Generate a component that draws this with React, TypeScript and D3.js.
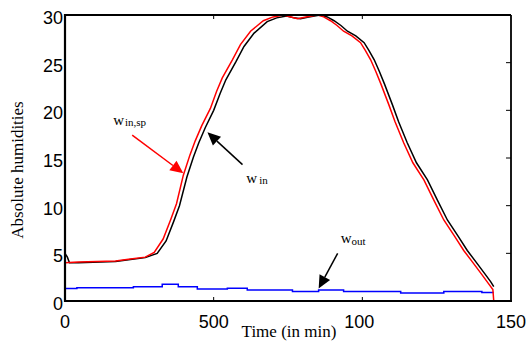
import * as d3 from 'd3';

// time (min) and values
const spTime = [0, 45, 170, 220, 270, 300, 330, 355, 375, 398, 420, 438, 460, 489, 510, 529, 563, 590, 624, 667, 700, 735, 760, 782, 810, 849, 870, 893, 915, 937, 965, 994, 1010, 1028, 1045, 1062, 1089, 1110, 1139, 1170, 1207, 1240, 1274, 1310, 1341, 1370, 1399, 1420, 1439, 1442];
const spValue = [4.0, 4.1, 4.2, 4.4, 4.6, 5.1, 6.5, 8.5, 10.2, 13.2, 15.3, 16.8, 18.4, 20.2, 22.0, 23.4, 25.3, 26.9, 28.3, 29.4, 29.8, 30.0, 29.8, 29.6, 29.8, 30.0, 29.8, 29.4, 28.9, 28.3, 27.8, 27.1, 26.3, 25.3, 24.1, 22.8, 20.6, 18.8, 16.6, 14.5, 12.7, 10.6, 8.5, 6.8, 5.3, 4.1, 2.9, 2.0, 1.2, 0.0];

const inTime = [0, 8, 15, 45, 170, 220, 270, 310, 340, 365, 385, 410, 432, 450, 472, 500, 522, 541, 575, 602, 636, 680, 712, 745, 770, 792, 820, 858, 882, 905, 928, 950, 978, 1006, 1022, 1040, 1057, 1074, 1101, 1122, 1151, 1182, 1219, 1252, 1286, 1322, 1353, 1382, 1411, 1432, 1442];
const inValue = [5.0, 4.6, 4.0, 4.0, 4.15, 4.35, 4.55, 5.0, 6.3, 8.3, 10.0, 13.0, 15.1, 16.6, 18.2, 20.0, 21.8, 23.2, 25.1, 26.7, 28.1, 29.3, 29.7, 29.9, 29.7, 29.6, 29.8, 30.0, 29.8, 29.4, 28.9, 28.3, 27.8, 27.1, 26.3, 25.3, 24.1, 22.8, 20.6, 18.8, 16.6, 14.5, 12.7, 10.6, 8.5, 6.8, 5.3, 4.1, 2.9, 2.0, 1.5];

// w_out is piecewise constant
const outTime = [0, 40, 230, 327, 381, 445, 546, 613, 765, 853, 937, 1129, 1274, 1402, 1442];
const outValue = [1.3, 1.4, 1.5, 1.75, 1.5, 1.25, 1.35, 1.15, 1.0, 1.15, 1.0, 0.85, 1.0, 0.9, 0.9];

const xTicks = [0, 500, 1000, 1500];
const xTickLabels = ['0', '500', '100', '150'];
const yTicks = [0, 5, 10, 15, 20, 25, 30];

const W = 526;
const H = 350;
const margin = { left: 65, right: 15, top: 15, bottom: 49 };

const x = d3.scaleLinear().domain([0, 1500]).range([margin.left, W - margin.right]);
const y = d3.scaleLinear().domain([0, 30]).range([H - margin.bottom, margin.top]);

const line = d3.line<[number, number]>().x(d => x(d[0])).y(d => y(d[1]));
const stepLine = d3.line<[number, number]>().x(d => x(d[0])).y(d => y(d[1])).curve(d3.curveStepAfter);

const zip = (a: number[], b: number[]) => a.map((t, i) => [t, b[i]] as [number, number]);

function Arrow({ from, to, color }: { from: [number, number]; to: [number, number]; color: string }) {
  const x1 = x(from[0]), y1 = y(from[1]);
  const x2 = x(to[0]), y2 = y(to[1]);
  const ang = Math.atan2(y2 - y1, x2 - x1);
  const len = 13, half = 6;
  const bx = x2 - len * Math.cos(ang), by = y2 - len * Math.sin(ang);
  const px = -Math.sin(ang) * half, py = Math.cos(ang) * half;
  return (
    <g>
      <line x1={x1} y1={y1} x2={bx} y2={by} stroke={color} strokeWidth={1.5} />
      <polygon points={`${x2},${y2} ${bx + px},${by + py} ${bx - px},${by - py}`} fill={color} />
    </g>
  );
}

export default function App() {
  const x0 = x.range()[0], x1 = x.range()[1];
  const y0 = y.range()[0], y1 = y.range()[1];
  const serif = '"Liberation Serif", "Times New Roman", serif';
  const sans = '"Liberation Sans", Arial, sans-serif';
  return (
    <svg width={W} height={H} style={{ position: 'absolute', left: 0, top: 0, background: '#fff' }}>
      {/* curves */}
      <path d={stepLine(zip(outTime, outValue)) ?? ''} fill="none" stroke="#0000ff" strokeWidth={1.5} />
      <path d={line(zip(inTime, inValue)) ?? ''} fill="none" stroke="#000" strokeWidth={1.5} />
      <path d={line(zip(spTime, spValue)) ?? ''} fill="none" stroke="#ff0000" strokeWidth={1.5} />

      {/* box */}
      <line x1={x0} x2={x0} y1={y0 + 1} y2={y1 - 1} stroke="#000" strokeWidth={2.2} />
      <line x1={x0 - 1} x2={x1 + 1} y1={y0} y2={y0} stroke="#000" strokeWidth={2.2} />
      <line x1={x0} x2={x1} y1={y1} y2={y1} stroke="#000" strokeWidth={1.8} />
      <line x1={x1} x2={x1} y1={y0} y2={y1} stroke="#000" strokeWidth={1.8} />

      {/* inward ticks */}
      {xTicks.slice(1, -1).map(t => (
        <g key={'xt' + t}>
          <line x1={x(t)} x2={x(t)} y1={y0} y2={y0 - 4} stroke="#000" strokeWidth={1} />
          <line x1={x(t)} x2={x(t)} y1={y1} y2={y1 + 4} stroke="#000" strokeWidth={1} />
        </g>
      ))}
      {yTicks.slice(1, -1).map(v => (
        <line key={'yt' + v} x1={x1} x2={x1 - 5} y1={y(v)} y2={y(v)} stroke="#000" strokeWidth={1} />
      ))}

      {/* tick labels */}
      {xTicks.map((t, i) => (
        <text key={'xl' + t} x={x(t) + (i === 3 ? 0 : i === 2 ? -3 : 0)} y={y0 + 27} textAnchor="middle" fontFamily={sans} fontSize={18}>
          {xTickLabels[i]}
        </text>
      ))}
      {yTicks.map(v => (
        <text key={'yl' + v} x={x0 - 2} y={y(v) + 9} textAnchor="end" fontFamily={sans} fontSize={18}>
          {v}
        </text>
      ))}

      {/* axis titles */}
      <text x={289} y={H - 13} textAnchor="middle" fontFamily={serif} fontSize={17}>Time (in min)</text>
      <text transform={`translate(23,${(y0 + y1) / 2 + 12}) rotate(-90)`} textAnchor="middle" fontFamily={serif} fontSize={17}>
        Absolute humidities
      </text>

      {/* annotations */}
      <text x={x(162)} y={y(18.46)} fontFamily={serif} fontSize={15}>
        w<tspan fontSize={11} dx={1} dy={1}>in,sp</tspan>
      </text>
      <Arrow from={[226, 17.4]} to={[398, 13.4]} color="#ff0000" />

      <text x={x(610)} y={y(12.4)} fontFamily={serif} fontSize={15}>
        w<tspan fontSize={11} dx={2} dy={1}>in</tspan>
      </text>
      <Arrow from={[597, 14.3]} to={[479, 17.7]} color="#000" />

      <text x={x(927)} y={y(6.1)} fontFamily={serif} fontSize={15}>
        w<tspan fontSize={11} dx={0} dy={2}>out</tspan>
      </text>
      <Arrow from={[917, 5.0]} to={[853, 1.3]} color="#000" />
    </svg>
  );
}
